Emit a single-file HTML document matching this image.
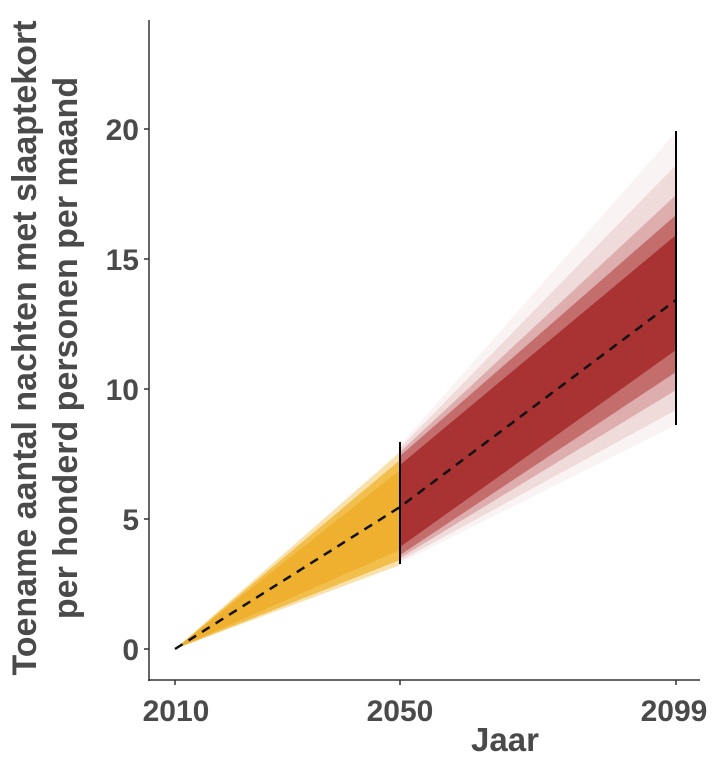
<!DOCTYPE html>
<html><head><meta charset="utf-8"><style>
body{margin:0;background:#fff;}
svg{display:block;font-family:"Liberation Sans",sans-serif;}
</style></head><body>
<svg width="718" height="760" viewBox="0 0 718 760">
<polygon points="175,649 400,452 400,565" fill="#f3c45a" opacity="0.5"/>
<polygon points="175,649 400,460 400,560" fill="#f0b636" opacity="0.8"/>
<polygon points="175,649 400,470 400,550" fill="#eeb02e"/>
<polygon points="400,445 676,132 676,425 400,563" fill="#b23a3a" opacity="0.06"/>
<polygon points="400,448 676,165 676,410 400,561" fill="#b03030" opacity="0.12"/>
<polygon points="400,452 676,195 676,390 400,558" fill="#a82525" opacity="0.25"/>
<polygon points="400,456 676,215 676,372 400,555" fill="#a31f1f" opacity="0.45"/>
<polygon points="400,465 676,235 676,350 400,547" fill="#9e1a1a" opacity="0.7"/>
<polyline points="175,649 400,507 676,300" fill="none" stroke="#111" stroke-width="2.5" stroke-dasharray="9,7"/>
<line x1="400" y1="442" x2="400" y2="564" stroke="#000" stroke-width="2"/>
<line x1="676" y1="131" x2="676" y2="425" stroke="#000" stroke-width="2"/>
<line x1="149" y1="20" x2="149" y2="681" stroke="#333" stroke-width="1.5"/>
<line x1="148" y1="680" x2="700" y2="680" stroke="#333" stroke-width="1.5"/>
<g stroke="#333" stroke-width="1.5">
<line x1="144" y1="649" x2="149" y2="649"/><line x1="144" y1="519" x2="149" y2="519"/>
<line x1="144" y1="389" x2="149" y2="389"/><line x1="144" y1="259" x2="149" y2="259"/>
<line x1="144" y1="129" x2="149" y2="129"/>
<line x1="175" y1="680" x2="175" y2="685"/><line x1="400" y1="680" x2="400" y2="685"/><line x1="676" y1="680" x2="676" y2="685"/>
</g>
<g fill="#4a4a4a" font-weight="bold" font-size="30" text-anchor="end">
<text x="139" y="660">0</text><text x="139" y="530">5</text><text x="139" y="400">10</text>
<text x="139" y="270">15</text><text x="139" y="140">20</text>
</g>
<g fill="#4a4a4a" font-weight="bold" font-size="30" text-anchor="middle">
<text x="176" y="721">2010</text><text x="400" y="721">2050</text><text x="674" y="721">2099</text>
</g>
<text x="505" y="751" fill="#4a4a4a" font-weight="bold" font-size="33" text-anchor="middle">Jaar</text>
<g fill="#4a4a4a" font-weight="bold" font-size="34" text-anchor="middle">
<text transform="translate(36,348) rotate(-90)">Toename aantal nachten met slaaptekort</text>
<text transform="translate(77,348) rotate(-90)">per honderd personen per maand</text>
</g>
</svg>
</body></html>
